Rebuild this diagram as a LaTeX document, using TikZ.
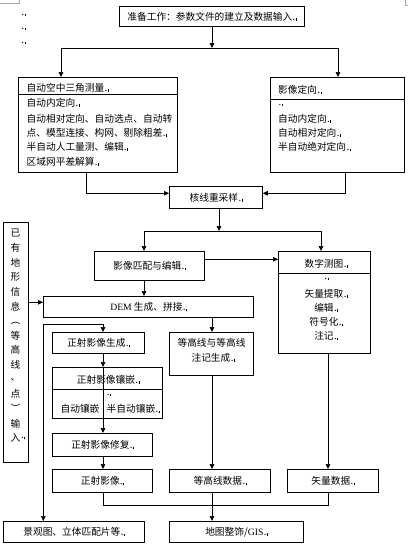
\documentclass[tikz,border=0pt]{standalone}
\usepackage{fontspec}
\setmainfont{Noto Sans CJK SC}
\newfontfamily\latf{Liberation Serif}
\usetikzlibrary{arrows.meta}
\newcommand\parmk{\kern0.4pt{.}\kern0.5pt\rule[-0.6pt]{0.45pt}{2.6pt}}
\begin{document}
\begin{tikzpicture}[x=1pt,y=-1pt,
  box/.style={draw, line width=0.8pt, inner sep=0pt, anchor=north west},
  arr/.style={-{Triangle[length=5pt,width=4.6pt]}, line width=0.7pt},
  ln/.style={line width=0.7pt},
  txt/.style={inner sep=0pt},
  lt/.style={inner sep=0pt, anchor=west},
  cmark/.style={draw=gray!70, line width=0.5pt},
  font=\fontsize{9.7}{14.6}\selectfont]
\useasboundingbox (0,0) rectangle (408,549);

% page corner marks
\draw[cmark] (0,3) -- (19,3) -- (19,0);
\draw[cmark] (405,0) -- (405,5) -- (408,5);
\node[txt] (p1) at (23,15) {\parmk};
\node[txt] (p2) at (23,29) {\parmk};
\node[txt] (p3) at (23,43) {\parmk};

% boxes
\node[box, minimum width=185, minimum height=20] (top) at (119,6) {准备工作：参数文件的建立及数据输入\parmk};

\node[box, minimum width=159, minimum height=95] (lbox) at (18,77) {};
\draw[ln] (lbox.west |- 0,94) -- (lbox.east |- 0,94);
\node[lt] (lt0) at (26.5,87.5) {自动空中三角测量\parmk};
\node[lt] (lt1) at (26.5,102.7) {自动内定向\parmk};
\node[lt] (lt2) at (26.5,118.3) {自动相对定向、自动选点、自动转};
\node[lt] (lt3) at (26.5,132.3) {点、模型连接、构网、剔除粗差\parmk};
\node[lt] (lt4) at (26.5,146.3) {半自动人工量测、编辑\parmk};
\node[lt] (lt5) at (26.5,161.7) {区域网平差解算\parmk};

\node[box, minimum width=134, minimum height=95] (rbox) at (270,77) {};
\draw[ln] (rbox.west |- 0,99) -- (rbox.east |- 0,99);
\node[lt] (rt0) at (278,90) {影像定向\parmk};
\node[lt] (rt1) at (278,105) {\parmk};
\node[lt] (rt2) at (278,118.3) {自动内定向\parmk};
\node[lt] (rt3) at (278,132.7) {自动相对定向\parmk};
\node[lt] (rt4) at (278,147) {半自动绝对定向\parmk};

\node[box, minimum width=93, minimum height=22] (hx) at (169,186) {核线重采样\parmk};

\node[box, minimum width=110, minimum height=29] (match) at (94,251) {影像匹配与编辑\parmk};

\node[box, minimum width=92, minimum height=102] (digit) at (278,251) {};
\draw[ln] (digit.west |- 0,273) -- (digit.east |- 0,273);
\node[txt] (dt0) at (326,263.5) {数字测图\parmk};
\node[txt] (dt1) at (326,279) {\parmk};
\node[txt] (dt2) at (326,293.3) {矢量提取\parmk};
\node[txt] (dt3) at (326,307.7) {编辑\parmk};
\node[txt] (dt4) at (326,322) {符号化\parmk};
\node[txt] (dt5) at (326,336) {注记\parmk};

\node[box, minimum width=25, minimum height=240] (exist) at (3,222) {};
\foreach \c [count=\i] in {已,有,地,形,信,息,,等,高,线,、,点,,输,入}
  \node[txt] (v\i) at (15.5,{233+14.64*(\i-1)}) {\c};
\node[txt, rotate=-90] (vpl) at (15.5,{233+14.64*6}) {（};
\node[txt, rotate=-90] (vpr) at (15.5,{233+14.64*12}) {）};
\node[txt, anchor=west] (vm) at (20.5,438) {\parmk};

\node[box, minimum width=210, minimum height=21] (dem) at (43,296) {{\latf DEM} 生成、拼接\parmk};

\node[box, minimum width=92, minimum height=21] (orthogen) at (52,332) {正射影像生成\parmk};

\node[box, minimum width=84, minimum height=43] (contour) at (169,332) {};
\node[txt] (ct1) at (211.5,343) {等高线与等高线};
\node[txt] (ct2) at (213,357.7) {注记生成\parmk};

\node[box, minimum width=110, minimum height=51] (mosaic) at (52,367) {};
\draw[ln] (mosaic.west |- 0,389) -- (mosaic.east |- 0,389);
\node[txt] (mt0) at (108,379.5) {正射影像镶嵌\parmk};
\node[txt] (mt1) at (108.5,395) {\parmk};
\node[txt] (mt2) at (80,409) {自动镶嵌};
\node[txt] (mt3) at (133,409) {半自动镶嵌\parmk};

\node[box, minimum width=100, minimum height=23] (repair) at (52,433) {正射影像修复\parmk};
\node[box, minimum width=100, minimum height=23] (ortho) at (52,469) {正射影像\parmk};
\node[box, minimum width=101, minimum height=23] (cdata) at (169,469) {等高线数据\parmk};
\node[box, minimum width=91, minimum height=23] (vdata) at (287,469) {矢量数据\parmk};

\node[box, minimum width=141, minimum height=21] (land) at (3,521) {景观图、立体匹配片等\parmk};
\node[box, minimum width=134, minimum height=21] (gis) at (169,521) {地图整饰/{\latf GIS}\parmk};

% connectors
\coordinate (j1) at (212,48);
\coordinate (ja) at (61,48);
\coordinate (jb) at (338,48);
\draw[arr] (j1 |- top.south) -- (j1);
\draw[ln] (ja) -- (jb);
\draw[arr] (ja) -- (ja |- lbox.north);
\draw[arr] (jb) -- (jb |- rbox.north);

\draw[arr] (lbox.south -| 86,0) |- (hx.west |- 0,193.3);
\draw[arr] (rbox.south -| 345,0) |- (hx.east |- 0,193.3);

\coordinate (j2) at (219,231);
\coordinate (jc) at (144,231);
\coordinate (jd) at (321,231);
\draw[arr] (j2 |- hx.south) -- (j2);
\draw[ln] (jc) -- (jd);
\draw[arr] (jc) -- (jc |- match.north);
\draw[arr] (jd) -- (jd |- digit.north);

\draw[arr] (match.east |- 0,259.3) -- (digit.west |- 0,259.3);
\draw[arr] (match.south -| 144,0) -- (dem.north -| 144,0);
\draw[arr] (exist.east |- 0,302.3) -- (dem.west |- 0,302.3);

\coordinate (je) at (43.3,324.3);
\coordinate (jf) at (103,324.3);
\draw[ln] (je) -- (jf);
\draw[arr] (jf) -- (orthogen.north -| jf);
\draw[arr] (je) -- (land.north -| je);

\draw[arr] (dem.south -| 212,0) -- (contour.north -| 212,0);
\draw[arr] (orthogen.south -| 103,0) -- (mosaic.north -| 103,0);
\draw[arr] (mosaic.north -| 103,389) -- (repair.north -| 103,0);
\draw[arr] (repair.south -| 103,0) -- (ortho.north -| 103,0);
\draw[arr] (contour.south -| 212,0) -- (cdata.north -| 212,0);
\draw[arr] (digit.south -| 328,0) -- (vdata.north -| 328,0);

\coordinate (jg) at (103,505);
\coordinate (jh) at (328,505);
\draw[ln] (ortho.south -| jg) -- (jg) -- (jh) -- (vdata.south -| jh);
\draw[arr] (cdata.south -| 212,0) -- (gis.north -| 212,0);
\end{tikzpicture}
\end{document}
